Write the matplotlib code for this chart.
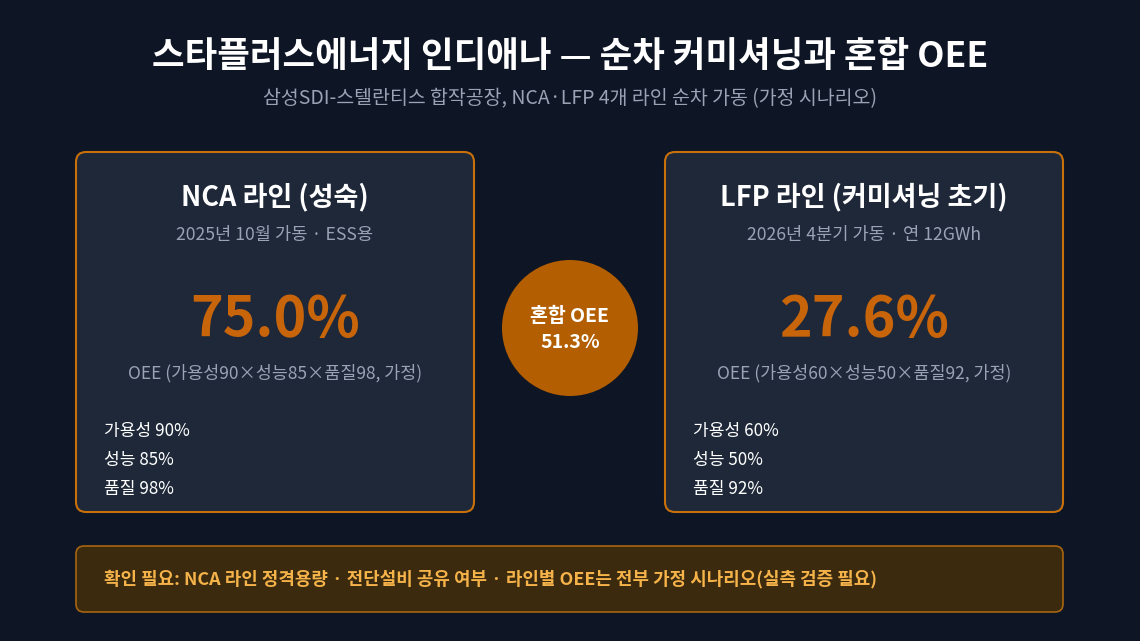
import matplotlib
matplotlib.use("Agg")
import matplotlib.pyplot as plt
from matplotlib.patches import FancyBboxPatch, Circle

plt.rcParams['font.family'] = ['Noto Sans CJK KR', 'DejaVu Sans']

title = "스타플러스에너지 인디애나 — 순차 커미셔닝과 혼합 OEE"
subtitle = "삼성SDI-스텔란티스 합작공장, NCA·LFP 4개 라인 순차 가동 (가정 시나리오)"
lines = ["NCA 라인 (성숙)", "LFP 라인 (커미셔닝 초기)"]
line_sub = ["2025년 10월 가동 · ESS용", "2026년 4분기 가동 · 연 12GWh"]
availability = [90, 60]
performance = [85, 50]
quality = [98, 92]
oee = [75.0, 27.6]
blend_oee = 51.3
note = "확인 필요: NCA 라인 정격용량 · 전단설비 공유 여부 · 라인별 OEE는 전부 가정 시나리오(실측 검증 필요)"

W, H = 1140, 641
fig = plt.figure(figsize=(W/100, H/100), dpi=100)
fig.patch.set_facecolor('#0e1525')
ax = fig.add_axes([0, 0, 1, 1])
ax.set_xlim(0, W); ax.set_ylim(H, 0); ax.axis('off')

ax.text(570, 56, title, color='white', fontsize=25.5, fontweight='bold', ha='center', va='center')
ax.text(570, 99, subtitle, color='#9aa3b5', fontsize=14, ha='center', va='center')

for i, x0 in enumerate([76, 665]):
    ax.add_patch(FancyBboxPatch((x0, 152), 398, 360, boxstyle="round,pad=0,rounding_size=10",
                                fc='#1e2839', ec='#c8700a', lw=1.5))
    cx = x0 + 199
    ax.text(cx, 197, lines[i], color='white', fontsize=19.5, fontweight='bold', ha='center', va='center')
    ax.text(cx, 235, line_sub[i], color='#9aa3b5', fontsize=12.7, ha='center', va='center')
    ax.text(cx, 320, f"{oee[i]:.1f}%", color='#c8650a', fontsize=40, fontweight='bold', ha='center', va='center')
    ax.text(cx, 373, f"OEE (가용성{availability[i]}×성능{performance[i]}×품질{quality[i]}, 가정)",
            color='#9aa3b5', fontsize=12.5, ha='center', va='center')
    for j, (lab, v) in enumerate([("가용성", availability[i]), ("성능", performance[i]), ("품질", quality[i])]):
        ax.text(x0 + 28, 431 + j*29, f"{lab} {v}%", color='white', fontsize=12.3, ha='left', va='center')

ax.add_patch(Circle((570, 328), 68, fc='#b35e00', ec='none'))
ax.text(570, 316, "혼합 OEE", color='white', fontsize=14, fontweight='bold', ha='center', va='center')
ax.text(570, 342, f"{blend_oee:.1f}%", color='white', fontsize=14, fontweight='bold', ha='center', va='center')

ax.add_patch(FancyBboxPatch((76, 546), 987, 66, boxstyle="round,pad=0,rounding_size=8",
                            fc='#3b2a0e', ec='#a8650f', lw=1.2))
ax.text(104, 579, note, color='#f5b34a', fontsize=12.9, fontweight='bold', ha='left', va='center')

fig.savefig('out.png', dpi=100, facecolor=fig.get_facecolor())
